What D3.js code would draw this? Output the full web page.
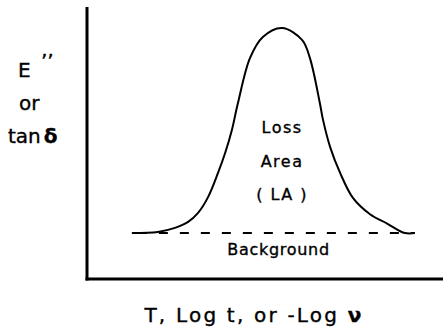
<!DOCTYPE html>
<html lang="en">
<head>
    <meta charset="UTF-8">
    <title>Loss Area</title>
    <script src="https://d3js.org/d3.v7.min.js"></script>
</head>
<style>
    body { margin: 0; background: #fff; }
    text {
        font-family: "DejaVu Sans", sans-serif;
        fill: #000;
        stroke: #000;
        stroke-width: 0.35px;
    }
</style>
<body>
<div class="chart"></div>
<script>
    // loss peak, arbitrary units (x: 0-100 along T / log t, y: 0-100 loss)
    var peakX = [12.6, 19.9, 24.7, 28.4, 31.2, 34.0, 36.8, 38.8, 40.7, 42.4, 45.8, 49.4,
                 54.8, 60.4, 62.6, 65.4, 66.3, 68.3, 71.1, 74.7, 79.5, 84.3, 89.3, 92.1];
    var peakY = [16.9, 17.3, 18.8, 21.0, 24.3, 30.1, 39.0, 46.3, 54.8, 64.7, 81.3, 89.0,
                 92.3, 87.9, 81.3, 64.7, 58.5, 48.5, 39.0, 29.8, 23.8, 20.4, 16.9, 16.9];
    var background = [[12.6, 16.9], [92.1, 16.9]];
    var areaLabels = ["Loss", "Area", "( LA )"];

    var width = 443, height = 329;
    var margin = {top: 7, right: 0, bottom: 50, left: 87};

    var svg = d3.select(".chart").append("svg")
        .attr("width", width)
        .attr("height", height);

    var x = d3.scaleLinear().domain([0, 100]).range([margin.left, width - margin.right]);
    var y = d3.scaleLinear().domain([0, 100]).range([height - margin.bottom, margin.top]);

    // axes (no ticks)
    svg.append("line")
        .attr("x1", x(0)).attr("x2", x(0))
        .attr("y1", y(100)).attr("y2", y(0) + 1.5)
        .attr("stroke", "#000").attr("stroke-width", 3);
    svg.append("line")
        .attr("x1", x(0) - 1.5).attr("x2", x(100))
        .attr("y1", y(0)).attr("y2", y(0))
        .attr("stroke", "#000").attr("stroke-width", 3);

    var pts = peakX.map(function (d, i) { return [d, peakY[i]]; });
    var line = d3.line()
        .x(function (d) { return x(d[0]); })
        .y(function (d) { return y(d[1]); })
        .curve(d3.curveCatmullRom.alpha(0.5));

    svg.append("path")
        .datum(background)
        .attr("d", d3.line().x(function (d) { return x(d[0]); }).y(function (d) { return y(d[1]); }))
        .attr("fill", "none")
        .attr("stroke", "#000")
        .attr("stroke-width", 2)
        .attr("stroke-dasharray", "9,12")
        .attr("stroke-dashoffset", -6);

    svg.append("path")
        .datum(pts)
        .attr("d", line)
        .attr("fill", "none")
        .attr("stroke", "#000")
        .attr("stroke-width", 2);

    // labels inside the peak
    svg.selectAll(".area-label")
        .data(areaLabels)
        .enter().append("text")
        .attr("class", "area-label")
        .attr("x", x(54.8))
        .attr("y", function (d, i) { return 133 + i * 33.5; })
        .attr("text-anchor", "middle")
        .style("font-size", "16px")
        .style("letter-spacing", "1.5px")
        .text(function (d) { return d; });

    svg.append("text")
        .attr("x", x(53.8))
        .attr("y", 255)
        .attr("text-anchor", "middle")
        .style("font-size", "16px")
        .style("letter-spacing", "0.7px")
        .text("Background");

    // y axis title
    var yt = svg.append("g").style("font-size", "20px");
    yt.append("text").attr("x", 18).attr("y", 77).text("E");
    yt.append("text").attr("x", 41).attr("y", 68).text("’’");
    yt.append("text").attr("x", 19).attr("y", 110).text("or");
    var tan = yt.append("text").attr("x", 8).attr("y", 143).text("tan");
    tan.append("tspan").attr("dx", 3).style("font-weight", "bold").text("δ");

    // x axis title
    var xt = svg.append("text")
        .attr("x", 254)
        .attr("y", 322)
        .attr("text-anchor", "middle")
        .style("font-size", "20px")
        .style("letter-spacing", "2.2px")
        .text("T, Log t, or -Log ");
    xt.append("tspan").style("font-weight", "bold").text("ν");
</script>
</body>
</html>
